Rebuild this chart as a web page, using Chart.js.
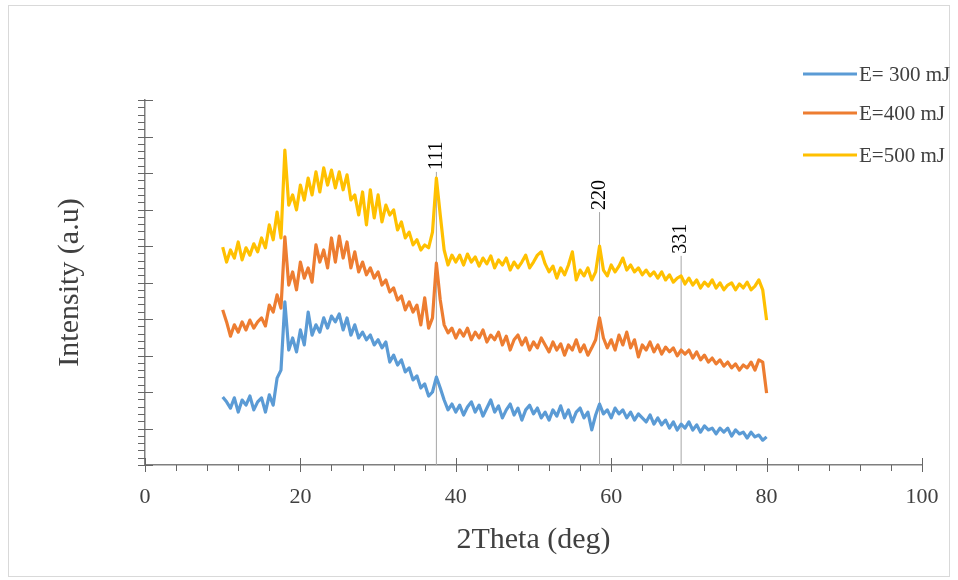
<!DOCTYPE html>
<html>
<head>
<meta charset="utf-8">
<script src="https://cdn.jsdelivr.net/npm/chart.js@4.4.1/dist/chart.umd.min.js"></script>
<style>
  html, body { margin: 0; padding: 0; background: #fff; }
  #wrap { width: 958px; height: 580px; }
</style>
</head>
<body>
<div id="wrap"><canvas id="xrd" width="958" height="580"></canvas></div>
<script>
// 2Theta sampling (deg)
const twoTheta = [
  10, 10.5, 11, 11.5, 12, 12.5, 13, 13.5, 14, 14.5,
  15, 15.5, 16, 16.5, 17, 17.5, 18, 18.5, 19, 19.5,
  20, 20.5, 21, 21.5, 22, 22.5, 23, 23.5, 24, 24.5,
  25, 25.5, 26, 26.5, 27, 27.5, 28, 28.5, 29, 29.5,
  30, 30.5, 31, 31.5, 32, 32.5, 33, 33.5, 34, 34.5,
  35, 35.5, 36, 36.5, 37, 37.5, 38, 38.5, 39, 39.5,
  40, 40.5, 41, 41.5, 42, 42.5, 43, 43.5, 44, 44.5,
  45, 45.5, 46, 46.5, 47, 47.5, 48, 48.5, 49, 49.5,
  50, 50.5, 51, 51.5, 52, 52.5, 53, 53.5, 54, 54.5,
  55, 55.5, 56, 56.5, 57, 57.5, 58, 58.5, 59, 59.5,
  60, 60.5, 61, 61.5, 62, 62.5, 63, 63.5, 64, 64.5,
  65, 65.5, 66, 66.5, 67, 67.5, 68, 68.5, 69, 69.5,
  70, 70.5, 71, 71.5, 72, 72.5, 73, 73.5, 74, 74.5,
  75, 75.5, 76, 76.5, 77, 77.5, 78, 78.5, 79, 79.5,
  80
];

// E = 300 mJ
const e300 = [
  186, 173, 156, 184, 145, 178, 164, 189, 151, 173,
  184, 145, 192, 164, 238, 260, 447, 315, 348, 310,
  370, 329, 419, 356, 384, 364, 403, 375, 408, 392,
  414, 370, 403, 356, 384, 348, 364, 343, 356, 329,
  343, 321, 337, 282, 301, 274, 288, 255, 266, 233,
  244, 211, 222, 189, 200, 241, 211, 178, 151, 167,
  145, 164, 137, 159, 173, 145, 164, 134, 156, 178,
  145, 162, 129, 151, 167, 137, 156, 123, 151, 164,
  140, 156, 129, 145, 123, 151, 134, 162, 129, 151,
  118, 145, 156, 129, 145, 96, 137, 167, 140, 151,
  129, 156, 140, 151, 129, 145, 123, 140, 129, 118,
  137, 112, 129, 110, 123, 101, 118, 96, 112, 101,
  118, 96, 110, 90, 107, 96, 101, 85, 101, 90,
  101, 79, 96, 85, 90, 74, 90, 77, 82, 68,
  77
];

// E = 400 mJ
const e400 = [
  425, 392, 353, 384, 364, 392, 370, 397, 375, 392,
  403, 381, 438, 419, 466, 430, 625, 493, 529, 480,
  556, 512, 540, 501, 603, 556, 589, 540, 622, 556,
  627, 567, 611, 540, 584, 529, 556, 521, 540, 512,
  529, 493, 507, 474, 485, 452, 463, 425, 447, 419,
  438, 384, 458, 375, 403, 553, 452, 384, 362, 375,
  348, 370, 353, 375, 343, 364, 348, 370, 337, 356,
  343, 364, 329, 353, 315, 343, 356, 329, 348, 315,
  337, 321, 348, 329, 310, 337, 315, 332, 301, 329,
  315, 343, 310, 329, 301, 321, 343, 403, 348, 321,
  343, 315, 356, 329, 364, 321, 343, 296, 329, 315,
  337, 310, 329, 304, 323, 310, 321, 299, 315, 304,
  315, 293, 310, 288, 301, 282, 293, 277, 288, 271,
  282, 266, 277, 260, 274, 266, 282, 260, 288, 282,
  197
];

// E = 500 mJ
const e500 = [
  597, 556, 589, 567, 611, 562, 595, 575, 606, 584,
  622, 595, 658, 617, 693, 622, 863, 712, 740, 699,
  767, 726, 786, 740, 803, 748, 814, 767, 808, 759,
  803, 754, 795, 726, 740, 685, 748, 658, 754, 677,
  740, 666, 712, 685, 699, 644, 666, 622, 638, 603,
  617, 589, 603, 595, 638, 786, 685, 589, 548, 575,
  556, 575, 548, 578, 556, 570, 545, 567, 551, 573,
  540, 562, 548, 567, 534, 556, 540, 556, 575, 540,
  556, 575, 584, 551, 529, 545, 512, 540, 521, 548,
  584, 507, 534, 518, 540, 507, 529, 600, 534, 518,
  548, 529, 545, 567, 534, 548, 529, 540, 521, 534,
  518, 529, 512, 529, 507, 521, 501, 512, 518, 496,
  512, 493, 507, 485, 501, 490, 507, 485, 499, 480,
  493, 499, 480, 496, 485, 501, 480, 490, 507, 480,
  397
];

const seriesNames = ['E= 300 mJ', 'E=400 mJ', 'E=500 mJ'];
const seriesColors = ['#5B9BD5', '#ED7D31', '#FFC000'];

// reflections marked on the plot
const peakLabels = ['111', '220', '331'];
const peakPos = [37.5, 58.5, 69];
const peakTop = [803, 693, 573];

const serif = "'Liberation Serif', 'DejaVu Serif', serif";
const axisColor = '#7F7F7F';

const curveSets = [e300, e400, e500].map((ys, i) => ({
    label: seriesNames[i],
    data: twoTheta.map((x, j) => ({ x: x, y: ys[j] })),
    borderColor: seriesColors[i],
    backgroundColor: seriesColors[i],
    borderWidth: 3.2,
    pointRadius: 0,
    tension: 0,
    borderJoinStyle: 'round',
    order: 1
}));

const peakSets = peakPos.map((p, i) => ({
    label: peakLabels[i],
    data: [{ x: p, y: 0 }, { x: p, y: peakTop[i] }],
    borderColor: '#A6A6A6',
    borderWidth: 1,
    pointRadius: 0,
    order: 10
}));

// ticks, peak labels, legend and frame
const decorations = {
    id: 'decorations',
    beforeDraw(chart) {
        const ctx = chart.ctx;
        ctx.save();
        ctx.strokeStyle = '#D9D9D9';
        ctx.lineWidth = 1;
        ctx.strokeRect(8.5, 5.5, 941, 571);
        ctx.restore();
    },
    afterDraw(chart) {
        const ctx = chart.ctx;
        const xs = chart.scales.x;
        const ys = chart.scales.y;
        ctx.save();
        ctx.strokeStyle = '#666';
        ctx.lineWidth = 1;
        ctx.beginPath();
        for (let v = 0; v <= 100; v += 4) {
            const px = Math.round(xs.getPixelForValue(v)) + 0.5;
            const y0 = ys.bottom;
            if (v % 20 === 0) {
                ctx.moveTo(px, y0 - 7);
                ctx.lineTo(px, y0 + 7);
            } else {
                ctx.moveTo(px, y0);
                ctx.lineTo(px, y0 + 6);
            }
        }
        for (let v = 0; v <= 1000; v += 20) {
            const py = Math.round(ys.getPixelForValue(v)) + 0.5;
            const x0 = xs.left;
            if (v % 100 === 0) {
                ctx.moveTo(x0 - 7, py);
                ctx.lineTo(x0 + 8, py);
            } else {
                ctx.moveTo(x0 - 7, py);
                ctx.lineTo(x0, py);
            }
        }
        ctx.stroke();

        // peak labels
        ctx.fillStyle = '#000';
        ctx.font = '20px ' + serif;
        ctx.textAlign = 'left';
        ctx.textBaseline = 'middle';
        peakLabels.forEach((t, i) => {
            ctx.save();
            ctx.translate(xs.getPixelForValue(peakPos[i]), ys.getPixelForValue(peakTop[i]) - 2);
            ctx.rotate(-Math.PI / 2);
            ctx.fillText(t, 0, 0);
            ctx.restore();
        });

        // legend
        const rows = [74, 113, 155];
        ctx.font = '21px ' + serif;
        seriesNames.forEach((name, i) => {
            ctx.strokeStyle = seriesColors[i];
            ctx.lineWidth = 3;
            ctx.beginPath();
            ctx.moveTo(803, rows[i]);
            ctx.lineTo(857, rows[i]);
            ctx.stroke();
            ctx.fillStyle = '#404040';
            ctx.fillText(name, 859, rows[i] + 1);
        });
        ctx.restore();
    }
};

new Chart(document.getElementById('xrd'), {
    type: 'line',
    data: { datasets: [...curveSets, ...peakSets] },
    options: {
        responsive: false,
        animation: false,
        devicePixelRatio: 1,
        layout: { padding: { left: 48, right: 36, top: 100, bottom: 18 } },
        plugins: {
            legend: { display: false },
            tooltip: { enabled: false }
        },
        scales: {
            x: {
                type: 'linear',
                min: 0,
                max: 100,
                grid: { display: false },
                border: { display: true, color: axisColor, width: 1.5 },
                ticks: {
                    stepSize: 20,
                    maxRotation: 0,
                    autoSkip: false,
                    padding: 11,
                    color: '#404040',
                    font: { family: serif, size: 22 }
                },
                title: {
                    display: true,
                    text: '2Theta (deg)',
                    color: '#404040',
                    font: { family: serif, size: 30 }
                },
                afterFit(scale) { scale.height = 97; }
            },
            y: {
                min: 0,
                max: 1000,
                grid: { display: false },
                border: { display: true, color: axisColor, width: 1.5 },
                ticks: { display: false, stepSize: 100 },
                title: {
                    display: true,
                    text: 'Intensity (a.u)',
                    color: '#404040',
                    font: { family: serif, size: 30 }
                },
                afterFit(scale) { scale.width = 97; }
            }
        }
    },
    plugins: [decorations]
});
</script>
</body>
</html>
